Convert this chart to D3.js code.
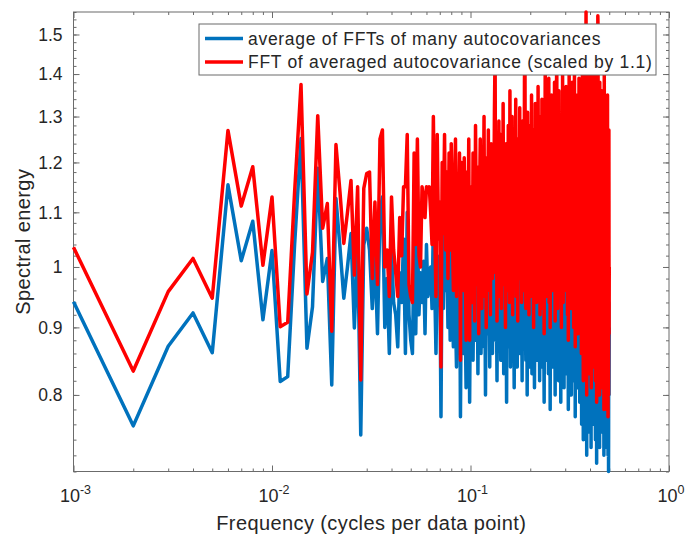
<!DOCTYPE html>
<html>
<head>
<meta charset="utf-8">
<script src="https://cdn.jsdelivr.net/npm/d3@7"></script>
<style>
  body { margin: 0; background: #fff; }
  svg text { font-family: "Liberation Sans", Arial, Helvetica, sans-serif; fill: #262626; }
</style>
</head>
<body>
<div id="chart"></div>
<script>

// average of FFTs of many autocovariances (one value per frequency bin)
const blueValues = [
    0.941, 0.758, 0.871, 0.923, 0.861, 1.154, 1.011, 1.083, 0.912, 1.029,
    0.819, 0.826, 1.04, 1.251, 0.868, 0.933, 1.188, 0.975, 1.015, 0.814,
    1.127, 1.035, 0.947, 1.00, 1.06, 0.899, 1.045, 0.746, 1.039, 1.070,
    1.03, 0.93, 1.02, 0.89, 1.10, 1.13, 0.90, 0.98, 0.86, 1.03,
    0.94, 0.92, 0.87, 0.99, 0.94, 1.05, 0.86, 1.10, 0.92, 0.88,
    0.86, 1.05, 0.89, 1.08, 0.92, 0.99, 0.94, 1.01, 0.89, 1.04,
    0.95, 0.97, 1.00, 0.93, 1.08, 0.97, 0.86, 1.02, 0.95, 1.01,
    0.77, 1.04, 0.93, 1.07, 0.96, 1.02, 0.90, 1.04, 0.88, 1.05,
    0.94, 0.87, 1.00, 0.92, 0.84, 1.02, 0.95, 1.06, 0.77, 1.00,
    0.94, 0.86, 1.03, 0.92, 0.81, 0.99, 0.90, 1.05, 0.79, 0.97,
    0.91, 1.03, 0.85, 0.98, 1.07, 0.88, 0.95, 1.02, 0.83, 0.99, 1.08, 0.90, 0.86, 1.04, 0.94, 1.10, 0.87, 0.97, 0.80, 1.01,
    0.93, 1.06, 0.89, 0.96, 0.84, 1.03, 0.92, 1.12, 0.86, 0.98, 0.90, 1.05, 1.14, 0.88, 0.95, 0.82, 1.00, 0.93, 1.07, 0.87,
    0.99, 0.85, 1.04, 0.91, 0.96, 1.09, 0.83, 0.94, 1.02, 0.89, 0.97, 0.79, 1.05, 0.92, 0.87, 1.01, 0.95, 1.11, 0.84, 0.98,
    0.90, 1.06, 0.86, 0.99, 0.93, 0.81, 1.03, 0.95, 1.08, 0.88, 0.96, 0.84, 1.02, 0.91, 1.07, 0.97, 0.86, 1.00, 0.89, 1.04,
    0.94, 0.82, 1.05, 0.90, 0.98, 1.13, 0.87, 1.16, 0.92, 0.85, 1.01, 0.95, 0.80, 1.03, 0.93, 0.88, 1.06, 0.96, 0.84, 0.99,
    1.04, 0.89, 0.95, 0.83, 1.02, 0.92, 1.09, 0.87, 0.97, 0.81, 1.00, 0.94, 0.86, 1.07, 0.91, 0.98, 0.85, 1.03, 0.93, 0.88,
    1.05, 0.96, 0.82, 0.99, 0.90, 1.08, 0.87, 0.94, 1.02, 0.84, 0.97, 0.91, 1.06, 0.88, 0.79, 1.01, 0.95, 1.15, 0.86, 0.98,
    0.92, 1.04, 0.85, 0.97, 0.90, 1.07, 0.83, 0.96, 1.01, 0.89, 0.94, 0.78, 1.03, 0.91, 0.87, 1.06, 0.93, 0.99, 0.84, 1.02,
    0.88, 0.95, 1.09, 0.86, 0.98, 0.92, 0.80, 1.04, 0.90, 0.97, 1.12, 0.85, 0.94, 1.00, 0.87, 0.93, 1.05, 0.82, 0.96, 0.91,
    1.03, 0.86, 0.99, 0.93, 0.79, 1.06, 0.89, 0.95, 1.01, 0.84, 0.97, 0.90, 1.08, 0.87, 0.94, 0.81, 1.02, 0.92, 0.98, 0.85,
    1.04, 0.91, 0.96, 0.83, 1.00, 0.88, 1.07, 0.93, 0.86, 0.99, 0.78, 1.03, 0.94, 0.89, 1.05, 0.84, 0.97, 0.92, 1.01, 0.87,
    0.95, 0.80, 1.06, 0.90, 0.98, 0.85, 1.02, 0.93, 0.88, 1.09, 0.82, 0.96, 0.91, 1.04, 0.86, 0.99, 0.77, 1.01, 0.94, 0.89,
    1.03, 0.87, 0.97, 0.92, 0.81, 1.05, 0.90, 0.95, 0.84, 1.00, 0.93, 1.08, 0.86, 0.98, 0.79, 1.02, 0.91, 0.96, 0.83, 1.04,
    0.89, 0.94, 0.76, 1.01, 0.92, 0.85, 1.06, 0.88, 0.97, 0.74, 1.03, 0.90, 0.95, 0.82, 1.00, 0.87, 1.10, 0.93, 0.78, 0.98,
    0.91, 1.14, 0.84, 0.96, 0.72, 1.02, 0.89, 0.94, 0.80, 1.05, 0.87, 0.99, 0.75, 1.01, 0.92, 0.86, 1.07, 0.83, 0.97, 0.90,
    0.79, 1.03, 0.88, 0.95, 0.73, 1.00, 0.91, 0.85, 1.06, 0.82, 0.98, 0.89, 0.76, 1.04, 0.93, 0.87, 0.99, 0.81, 1.02, 0.90,
    0.95, 0.77, 1.01, 0.86, 0.93, 0.74, 1.05, 0.89, 0.97, 0.83, 1.00, 0.71, 0.94, 0.88, 1.03, 0.80, 0.96, 1.13, 0.85, 0.92,
    0.78, 1.02, 0.90, 0.96, 0.84, 0.99, 0.73, 1.04, 0.88, 0.93, 0.81, 1.00, 0.87, 0.95, 0.76, 1.01, 0.91, 0.85, 0.98, 0.82,
    0.94, 0.75, 1.03, 0.89, 0.97, 0.80, 1.00, 0.86, 0.92, 0.72, 0.99, 0.88, 0.83, 1.05, 0.90, 0.77, 0.96, 0.74, 1.01, 0.87,
    0.93, 0.79, 0.98, 0.85, 0.73, 1.02, 0.89, 0.95, 0.76, 0.91, 0.84, 0.99, 0.72, 0.88, 0.97, 0.70, 0.86, 0.94, 0.80, 0.90
];

// FFT of averaged autocovariance, already scaled by 1.1
const redValues = [
    1.035, 0.834, 0.958, 1.015, 0.947, 1.269, 1.112, 1.191, 1.003, 1.130,
    0.901, 0.908, 1.14, 1.375, 0.954, 1.026, 1.302, 1.070, 1.117, 0.894,
    1.238, 1.14, 1.042, 1.10, 1.163, 0.986, 1.150, 0.821, 1.147, 1.177,
    1.18, 0.98, 1.12, 0.97, 1.25, 1.27, 1.00, 1.03, 0.95, 1.13,
    1.03, 0.99, 0.95, 1.09, 1.02, 1.15, 1.15, 1.26, 0.97, 0.95,
    0.94, 1.22, 1.04, 1.25, 1.02, 1.00, 1.15, 1.13, 1.09, 1.15,
    1.14, 1.15, 1.10, 1.04, 1.30, 1.08, 0.95, 1.26, 1.05, 1.12,
    0.84, 1.20, 1.06, 1.26, 1.03, 1.18, 0.98, 1.22, 1.03, 1.24,
    1.08, 0.96, 1.13, 1.25, 0.95, 1.15, 1.08, 1.22, 0.85, 1.20,
    1.13, 0.96, 1.21, 1.04, 0.88, 1.18, 1.02, 1.25, 0.88, 1.10,
    1.15, 0.94, 1.22, 1.03, 0.91, 1.28, 1.06, 0.97, 1.19, 0.89, 1.12, 1.25, 1.00, 0.93, 1.17, 1.08, 1.30, 0.95, 1.10, 0.90,
    1.21, 1.02, 1.27, 0.96, 1.13, 0.92, 1.24, 1.05, 0.98, 1.18, 1.09, 1.31, 1.46, 0.99, 1.14, 0.91, 1.23, 1.04, 1.29, 0.95,
    1.11, 1.26, 0.93, 1.16, 1.01, 1.33, 0.97, 1.20, 1.07, 0.90, 1.24, 1.03, 1.15, 0.96, 1.28, 1.09, 0.94, 1.36, 1.00, 1.18,
    1.06, 1.30, 0.92, 1.21, 1.12, 0.97, 1.27, 1.04, 1.34, 0.95, 1.19, 1.08, 0.91, 1.25, 1.13, 1.01, 1.32, 0.98, 1.22, 1.10,
    0.94, 1.17, 1.29, 1.03, 1.14, 0.96, 1.38, 1.49, 1.07, 0.93, 1.26, 1.11, 0.99, 1.31, 1.05, 1.20, 0.92, 1.28, 1.09, 0.97,
    1.23, 1.02, 1.35, 0.95, 1.16, 1.27, 1.06, 0.90, 1.21, 1.12, 0.98, 1.33, 1.04, 1.18, 0.94, 1.29, 1.10, 1.00, 1.37, 1.07,
    0.96, 1.24, 1.13, 0.92, 1.30, 1.05, 1.19, 0.99, 1.34, 1.08, 0.93, 1.26, 1.15, 1.02, 0.89, 1.28, 1.11, 1.47, 1.04, 1.21,
    1.09, 0.95, 1.32, 1.14, 0.98, 1.25, 1.03, 1.39, 0.94, 1.17, 1.07, 0.90, 1.29, 1.12, 1.00, 1.35, 1.06, 1.22, 0.96, 1.31,
    1.10, 0.97, 1.26, 1.04, 1.38, 1.15, 0.91, 1.23, 1.08, 0.99, 1.33, 1.47, 1.05, 1.20, 0.93, 1.28, 1.13, 1.01, 1.36, 1.09,
    0.95, 1.24, 1.14, 0.98, 1.30, 1.06, 0.90, 1.27, 1.18, 1.03, 1.40, 1.11, 0.94, 1.25, 1.07, 0.99, 1.34, 1.16, 1.02, 1.29,
    1.08, 0.96, 1.37, 1.12, 1.00, 1.23, 1.05, 0.92, 1.31, 1.14, 0.88, 1.26, 1.09, 1.41, 0.97, 1.19, 1.04, 1.33, 0.95, 1.22,
    1.11, 0.93, 1.28, 1.06, 1.38, 0.99, 1.17, 1.02, 1.32, 1.13, 0.90, 1.25, 1.08, 1.43, 0.96, 1.20, 0.87, 1.30, 1.05, 1.15,
    0.97, 1.27, 1.10, 0.92, 1.35, 1.04, 1.21, 0.89, 1.29, 1.12, 1.00, 1.39, 1.07, 0.94, 1.24, 1.16, 0.98, 1.33, 1.03, 1.19,
    1.09, 0.86, 1.31, 1.14, 0.95, 1.42, 1.05, 0.90, 1.27, 0.82, 1.20, 1.36, 1.00, 0.93, 1.45, 1.11, 0.97, 1.29, 0.85, 1.18,
    1.38, 1.56, 1.02, 1.24, 0.80, 1.33, 0.96, 1.15, 0.88, 1.40, 1.07, 1.22, 0.83, 1.30, 1.12, 0.94, 1.48, 0.99, 1.26, 1.04,
    0.87, 1.35, 1.10, 0.92, 1.19, 0.81, 1.44, 1.06, 0.97, 1.28, 0.90, 1.16, 1.39, 0.84, 1.23, 1.01, 1.32, 0.95, 1.13, 1.41,
    1.05, 0.86, 1.27, 0.98, 1.20, 0.82, 1.36, 1.08, 0.93, 1.30, 1.14, 0.79, 1.43, 1.02, 1.25, 0.89, 1.18, 1.55, 1.52, 1.07,
    0.85, 1.33, 1.11, 0.96, 1.22, 1.04, 0.80, 1.38, 0.94, 1.27, 0.88, 1.15, 1.00, 1.31, 0.83, 1.20, 1.09, 0.92, 1.36, 0.97,
    1.24, 0.81, 1.13, 1.02, 1.34, 0.87, 1.19, 0.95, 1.28, 0.78, 1.10, 1.40, 0.90, 1.23, 1.05, 0.84, 1.30, 0.79, 1.16, 0.98,
    1.26, 0.86, 1.12, 0.93, 0.78, 1.29, 1.01, 1.21, 0.82, 1.35, 0.95, 1.18, 0.77, 1.08, 1.24, 0.80, 1.03, 1.27, 0.89, 1.00
];

// frequency bins are 1/1000 cycles per data point apart
const binWidth = 0.001;
const frequencies = blueValues.map((v, i) => (i + 1) * binWidth);

const xDecades = [-3, -2, -1, 0];
const yTickValues = [0.8, 0.9, 1, 1.1, 1.2, 1.3, 1.4, 1.5];
const seriesNames = ['average of FFTs of many autocovariances', 'FFT of averaged autocovariance (scaled by 1.1)'];
const seriesColors = ['#0072BD', '#FF0000'];

const width = 686, height = 539;
const plot = { left: 73.5, right: 669, top: 12, bottom: 471.5 };
const axisColor = '#6b6b6b';

const svg = d3.select('#chart')
    .append('svg')
    .attr('width', width)
    .attr('height', height);

const x = d3.scaleLog()
    .domain([1e-3, 1])
    .range([plot.left, plot.right]);

const y = d3.scaleLog()
    .domain(d3.extent(blueValues.concat(redValues)))
    .range([plot.bottom, plot.top]);

// minor ticks: 2..9 within each decade on x, every 0.02 on y
const xMinor = x.ticks().filter(t => Math.abs(Math.log10(t) - Math.round(Math.log10(t))) > 1e-6);
const xMajor = xDecades.map(p => Math.pow(10, p));
const yDomain = y.domain();
const yMinor = d3.range(0.70, 1.57, 0.02).filter(t => t >= yDomain[0] - 1e-9 && t <= yDomain[1] + 1e-9);

function styleAxis(g) {
    g.select('.domain').remove();
    g.selectAll('line').attr('stroke', axisColor).attr('stroke-width', 1);
}

// Ticks point inwards on all four sides
const axes = svg.append('g');
[
    [d3.axisBottom(x), plot.bottom],
    [d3.axisTop(x), plot.top]
].forEach(([axis, pos]) => {
    axes.append('g')
        .attr('transform', `translate(0,${pos})`)
        .call(axis.tickValues(xMinor).tickSize(-3).tickFormat(''))
        .call(styleAxis);
    axes.append('g')
        .attr('transform', `translate(0,${pos})`)
        .call(axis.tickValues(xMajor).tickSize(-6).tickFormat(''))
        .call(styleAxis);
});
[
    [d3.axisLeft(y), plot.left],
    [d3.axisRight(y), plot.right]
].forEach(([axis, pos]) => {
    axes.append('g')
        .attr('transform', `translate(${pos},0)`)
        .call(axis.tickValues(yMinor).tickSize(-3).tickFormat(''))
        .call(styleAxis);
    axes.append('g')
        .attr('transform', `translate(${pos},0)`)
        .call(axis.tickValues(yTickValues).tickSize(-6).tickFormat(''))
        .call(styleAxis);
});

// Box
axes.append('rect')
    .attr('x', plot.left)
    .attr('y', plot.top)
    .attr('width', plot.right - plot.left)
    .attr('height', plot.bottom - plot.top)
    .attr('fill', 'none')
    .attr('stroke', axisColor)
    .attr('stroke-width', 1);

// Tick labels, x as powers of ten
const xLabels = svg.append('g')
    .selectAll('text')
    .data(xDecades)
    .enter()
    .append('text')
        .attr('x', d => x(Math.pow(10, d)) + 2)
        .attr('y', plot.bottom + 30)
        .attr('text-anchor', 'middle')
        .attr('font-size', '18px');
xLabels.append('tspan').text('10');
xLabels.append('tspan')
    .attr('dy', -8)
    .attr('font-size', '12.5px')
    .text(d => d === 0 ? '0' : '-' + Math.abs(d));

svg.append('g')
    .selectAll('text')
    .data(yTickValues)
    .enter()
    .append('text')
        .attr('x', plot.left - 11)
        .attr('y', d => y(d))
        .attr('dy', '0.36em')
        .attr('text-anchor', 'end')
        .attr('font-size', '17.5px')
        .text(d => d3.format('~g')(d));

// Axis titles
svg.append('text')
    .attr('x', (plot.left + plot.right) / 2)
    .attr('y', 530)
    .attr('text-anchor', 'middle')
    .attr('font-size', '20px')
    .attr('letter-spacing', '0.4px')
    .text('Frequency (cycles per data point)');

svg.append('text')
    .attr('transform', `translate(30,${(plot.top + plot.bottom) / 2}) rotate(-90)`)
    .attr('text-anchor', 'middle')
    .attr('font-size', '20px')
    .attr('letter-spacing', '0.4px')
    .text('Spectral energy');

// Series, blue first so red sits on top
const line = d3.line()
    .x((d, i) => x(frequencies[i]))
    .y(d => y(d));

[blueValues, redValues].forEach((values, i) => {
    svg.append('path')
        .datum(values)
        .attr('d', line)
        .attr('fill', 'none')
        .attr('stroke', seriesColors[i])
        .attr('stroke-width', 3.5)
        .attr('stroke-linejoin', 'round');
});

// Legend
const legend = svg.append('g');
legend.append('rect')
    .attr('x', 199)
    .attr('y', 24)
    .attr('width', 457)
    .attr('height', 51)
    .attr('fill', '#fff')
    .attr('stroke', axisColor)
    .attr('stroke-width', 1);

seriesNames.forEach((name, i) => {
    const ly = 38.5 + i * 23.5;
    legend.append('line')
        .attr('x1', 205).attr('x2', 243)
        .attr('y1', ly).attr('y2', ly)
        .attr('stroke', seriesColors[i])
        .attr('stroke-width', 3.5);
    legend.append('text')
        .attr('x', 248)
        .attr('y', ly)
        .attr('dy', '0.36em')
        .attr('font-size', '17.5px')
        .attr('letter-spacing', '0.7px')
        .text(name);
});
</script>
</body>
</html>
